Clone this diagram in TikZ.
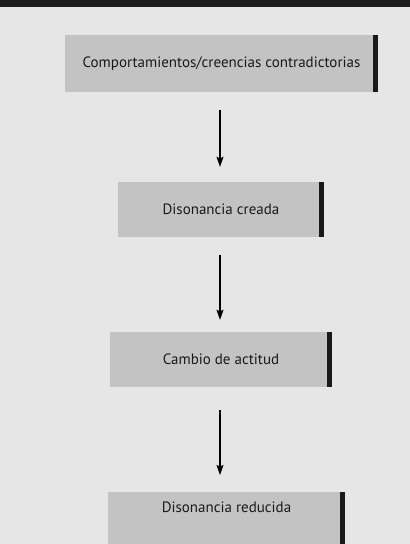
\documentclass[tikz,border=0pt]{standalone}
\usepackage{fontspec}
\setmainfont{PT Sans}
\usetikzlibrary{arrows.meta}
\definecolor{bgcol}{HTML}{E6E6E6}
\definecolor{boxcol}{HTML}{C3C3C3}
\definecolor{bandcol}{HTML}{1E1E1E}
\tikzset{
  stepbox/.style={fill=boxcol, draw=none, inner sep=0pt, font=\fontsize{15}{17}\selectfont, text=black!90},
  sidebar/.style={line width=5pt, draw=black!90},
  arr/.style={line width=1.1pt, -{Stealth[length=10pt,width=7pt,inset=1.5pt]}},
}
\begin{document}
\begin{tikzpicture}[x=1pt,y=-1pt]
\fill[bgcol] (0,0) rectangle (410,544);
\useasboundingbox (0,0) rectangle (410,544);
\fill[bandcol] (0,0) rectangle (410,7);
\coordinate (ax) at (220,0);
\node[stepbox, minimum width=313pt, minimum height=57pt] (a) at (221.5,63.5) {Comportamientos/creencias contradictorias};
\node[stepbox, minimum width=206pt, minimum height=55pt] (b) at (221,209.5) {Disonancia creada};
\node[stepbox, minimum width=222pt, minimum height=55pt] (c) at (221,359.5) {Cambio de actitud};
\node[stepbox, minimum width=237pt, anchor=north, text height=11pt, text depth=36pt, inner ysep=9pt] (d) at (226.5,492) {Disonancia reducida};
\foreach \n in {a,b,c,d} {
  \draw[sidebar] ([xshift=-2.5pt]\n.north east) -- ([xshift=-2.5pt]\n.south east);
}
\draw[arr, shorten <=18pt, shorten >=15pt] (a.south -| ax) -- (b.north -| ax);
\draw[arr, shorten <=18pt, shorten >=12pt] (b.south -| ax) -- (c.north -| ax);
\draw[arr, shorten <=23pt, shorten >=17pt] (c.south -| ax) -- (d.north -| ax);
\end{tikzpicture}
\end{document}
